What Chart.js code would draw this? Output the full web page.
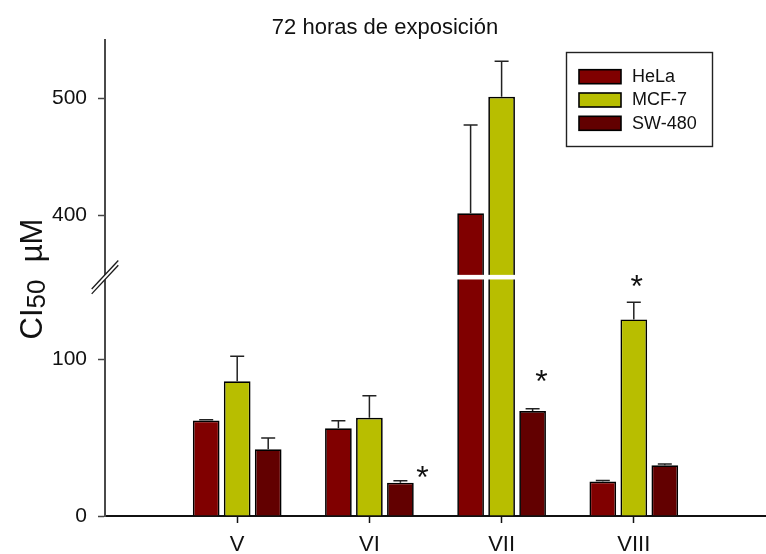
<!DOCTYPE html>
<html>
<head>
<meta charset="utf-8">
<script src="https://cdn.jsdelivr.net/npm/chart.js@4.4.1/dist/chart.umd.min.js"></script>
<style>
  html, body { margin: 0; padding: 0; background: #ffffff; }
  #wrap { width: 766px; height: 554px; position: relative; }
</style>
</head>
<body>
<div id="wrap"><canvas id="chart" width="766" height="554"></canvas></div>
<script>
// ---- data ----------------------------------------------------------------
const categories = ['V', 'VI', 'VII', 'VIII'];
const seriesNames = ['HeLa', 'MCF-7', 'SW-480'];

const helaValues  = [61, 56, 401.5, 22];
const helaErrors  = [0.5, 4.8, 75.6, 0.7];
const mcf7Values  = [86, 62.7, 501.4, 125.5];
const mcf7Errors  = [16, 14, 30.3, 10.9];
const sw480Values = [42.6, 21.3, 67, 32.4];
const sw480Errors = [7.2, 1.2, 1.5, 0.8];

const yTickValues = [0, 100, 400, 500];

// bars marked as significantly different
const significant = [
  { category: 'VI',   series: 'SW-480' },
  { category: 'VII',  series: 'SW-480' },
  { category: 'VIII', series: 'MCF-7' }
];

// ---- styling --------------------------------------------------------------
const FONT = "'Liberation Sans', Arial, Helvetica, sans-serif";
const seriesColors = ['#800000', '#b8be00', '#620000'];
const starPlacement = {              // offset of each star from bar centre / error-bar top
  VI:   { dx: 22, dy: -11 },
  VII:  { dx: 9,  dy: -35 },
  VIII: { dx: 3,  dy: -24 }
};

// y axis broken between 150 and 350
const AXIS_BREAK = { lowerMax: 150, upperMin: 350, lowerFrac: 0.4937, gapFrac: 0.0161 };

class BrokenLinearScale extends Chart.LinearScale {
  buildTicks() {
    return yTickValues.map(v => ({ value: v }));
  }
  _segments() {
    const h = this.bottom - this.top;
    const lowerH = h * AXIS_BREAK.lowerFrac;
    const gapH = h * AXIS_BREAK.gapFrac;
    return { lowerH, gapH, upperH: h - lowerH - gapH };
  }
  getPixelForValue(value) {
    const { lowerH, gapH, upperH } = this._segments();
    const { lowerMax, upperMin } = AXIS_BREAK;
    const min = this.min, max = this.max;
    let off;
    if (value <= lowerMax) off = (value - min) / (lowerMax - min) * lowerH;
    else if (value < upperMin) off = lowerH + (value - lowerMax) / (upperMin - lowerMax) * gapH;
    else off = lowerH + gapH + (value - upperMin) / (max - upperMin) * upperH;
    return this.bottom - off;
  }
  getValueForPixel(pixel) {
    const { lowerH, gapH, upperH } = this._segments();
    const { lowerMax, upperMin } = AXIS_BREAK;
    const off = this.bottom - pixel;
    if (off <= lowerH) return this.min + off / lowerH * (lowerMax - this.min);
    if (off <= lowerH + gapH) return lowerMax + (off - lowerH) / gapH * (upperMin - lowerMax);
    return upperMin + (off - lowerH - gapH) / upperH * (this.max - upperMin);
  }
  gapCenterPixel() {
    const { lowerH, gapH } = this._segments();
    return this.bottom - lowerH - gapH / 2;
  }
}
BrokenLinearScale.id = 'brokenLinear';
BrokenLinearScale.defaults = Chart.LinearScale.defaults;
Chart.register(BrokenLinearScale);

const valueSets = [helaValues, mcf7Values, sw480Values];
const errorSets = [helaErrors, mcf7Errors, sw480Errors];

const datasets = seriesNames.map((name, s) => ({
  label: name,
  data: valueSets[s].map((v, i) => ({ x: i + 1, y: v })),
  backgroundColor: seriesColors[s],
  borderColor: '#000000',
  borderWidth: 1.7,
  borderSkipped: 'bottom'
}));

// white band across the bars plus the // mark on the axis
const axisBreakPlugin = {
  id: 'axisBreak',
  afterDatasetsDraw(chart) {
    const y = chart.scales.y;
    const area = chart.chartArea;
    const cy = y.gapCenterPixel();
    const ctx = chart.ctx;
    ctx.save();
    ctx.fillStyle = '#ffffff';
    ctx.fillRect(area.left + 2, cy - 2.3, area.right - area.left, 4.6);

    const ax = area.left;
    const ang = 47 * Math.PI / 180;
    const dx = Math.cos(ang) * 19.5, dy = Math.sin(ang) * 19.5;
    const offs = [-2.4, 2.4];
    ctx.beginPath();
    ctx.moveTo(ax - dx, cy + offs[0] + dy);
    ctx.lineTo(ax + dx, cy + offs[0] - dy);
    ctx.lineTo(ax + dx, cy + offs[1] - dy);
    ctx.lineTo(ax - dx, cy + offs[1] + dy);
    ctx.closePath();
    ctx.fill();
    ctx.strokeStyle = '#1a1a1a';
    ctx.lineWidth = 1.3;
    offs.forEach(o => {
      ctx.beginPath();
      ctx.moveTo(ax - dx, cy + o + dy);
      ctx.lineTo(ax + dx, cy + o - dy);
      ctx.stroke();
    });
    ctx.restore();
  }
};

// upper error bars and significance stars
const errorBarPlugin = {
  id: 'errorBars',
  afterDatasetsDraw(chart) {
    const ctx = chart.ctx;
    const y = chart.scales.y;
    ctx.save();
    ctx.strokeStyle = '#222222';
    ctx.lineWidth = 1.5;
    chart.data.datasets.forEach((ds, s) => {
      const meta = chart.getDatasetMeta(s);
      meta.data.forEach((bar, i) => {
        const top = y.getPixelForValue(valueSets[s][i] + errorSets[s][i]);
        ctx.beginPath();
        ctx.moveTo(bar.x, bar.y);
        ctx.lineTo(bar.x, top);
        ctx.moveTo(bar.x - 7, top);
        ctx.lineTo(bar.x + 7, top);
        ctx.stroke();
      });
    });

    const starSize = 32;
    ctx.fillStyle = '#111111';
    ctx.font = starSize + 'px ' + FONT;
    ctx.textAlign = 'center';
    ctx.textBaseline = 'alphabetic';
    significant.forEach(mark => {
      const s = seriesNames.indexOf(mark.series);
      const i = categories.indexOf(mark.category);
      const bar = chart.getDatasetMeta(s).data[i];
      const top = y.getPixelForValue(valueSets[s][i] + errorSets[s][i]);
      const p = starPlacement[mark.category];
      ctx.fillText('*', bar.x + p.dx, top + p.dy + starSize * 0.57);
    });
    ctx.restore();
  }
};

// title, y-axis label and legend
const decorPlugin = {
  id: 'decor',
  afterDraw(chart) {
    const ctx = chart.ctx;
    const area = chart.chartArea;
    ctx.save();
    ctx.fillStyle = '#111111';

    ctx.font = '22px ' + FONT;
    ctx.textAlign = 'center';
    ctx.textBaseline = 'alphabetic';
    ctx.fillText('72 horas de exposición', 385, 34);

    // CI50 µM, rotated, with subscript
    const big = 31, sub = 26;
    ctx.translate(42, 279);
    ctx.rotate(-Math.PI / 2);
    ctx.textAlign = 'left';
    const partA = 'CI', partB = '50', partC = '  µM';
    ctx.font = big + 'px ' + FONT;
    const wA = ctx.measureText(partA).width;
    const wC = ctx.measureText(partC).width;
    ctx.font = sub + 'px ' + FONT;
    const wB = ctx.measureText(partB).width;
    const x0 = -(wA + wB + wC) / 2;
    ctx.font = big + 'px ' + FONT;
    ctx.fillText(partA, x0, 0);
    ctx.font = sub + 'px ' + FONT;
    ctx.fillText(partB, x0 + wA, 3);
    ctx.font = big + 'px ' + FONT;
    ctx.fillText(partC, x0 + wA + wB, 0);
    ctx.setTransform(1, 0, 0, 1, 0, 0);

    // legend box
    const lx = area.right - 200, ly = area.top + 12, lw = 146, lh = 94;
    ctx.strokeStyle = '#222222';
    ctx.lineWidth = 1.4;
    ctx.strokeRect(lx + 0.5, ly + 0.5, lw, lh);
    ctx.font = '18px ' + FONT;
    ctx.textAlign = 'left';
    ctx.textBaseline = 'middle';
    seriesNames.forEach((name, s) => {
      const sy = ly + 17.7 + s * 23.3;
      ctx.fillStyle = seriesColors[s];
      ctx.fillRect(lx + 13, sy, 42, 14);
      ctx.strokeStyle = '#000000';
      ctx.lineWidth = 1.6;
      ctx.strokeRect(lx + 13, sy, 42, 14);
      ctx.fillStyle = '#111111';
      ctx.fillText(name, lx + 66, sy + 7.5);
    });
    ctx.restore();
  }
};

new Chart(document.getElementById('chart'), {
  type: 'bar',
  data: { datasets },
  options: {
    responsive: false,
    animation: false,
    devicePixelRatio: 1,
    layout: { padding: { top: 40, left: 0, right: 0, bottom: 0 } },
    datasets: { bar: { categoryPercentage: 0.7035, barPercentage: 0.861 } },
    plugins: {
      legend: { display: false },
      title: { display: false },
      tooltip: { enabled: false }
    },
    scales: {
      x: {
        type: 'linear',
        min: 0,
        max: 5,
        offset: false,
        afterBuildTicks: scale => { scale.ticks = categories.map((c, i) => ({ value: i + 1 })); },
        afterFit: scale => { scale.height = 38; },
        grid: { drawOnChartArea: false, drawTicks: true, tickLength: 7, tickWidth: 1.5, tickColor: '#111111', offset: false },
        border: { display: true, color: '#111111', width: 2 },
        ticks: {
          callback: v => categories[v - 1] ?? '',
          font: { family: FONT, size: 22 },
          color: '#111111',
          padding: 9,
          maxRotation: 0,
          autoSkip: false
        }
      },
      y: {
        type: 'brokenLinear',
        min: 0,
        max: 550,
        afterFit: scale => { scale.width = 105; },
        grid: { drawOnChartArea: false, drawTicks: true, tickLength: 7, tickWidth: 1.5, tickColor: '#444444' },
        border: { display: true, color: '#4a4a4a', width: 2 },
        ticks: {
          callback: v => String(v),
          font: { family: FONT, size: 21 },
          color: '#111111',
          padding: 11
        }
      }
    }
  },
  plugins: [axisBreakPlugin, errorBarPlugin, decorPlugin]
});
</script>
</body>
</html>
